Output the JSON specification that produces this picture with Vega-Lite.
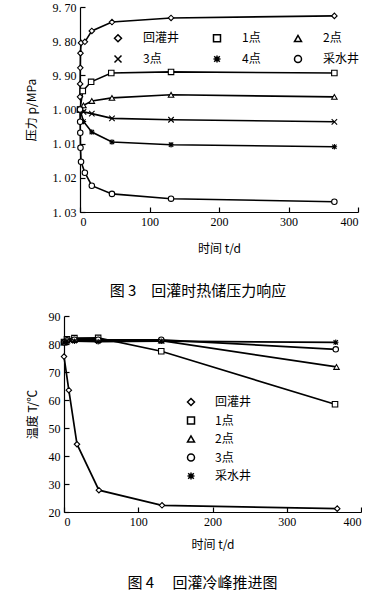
{
  "$schema": "https://vega.github.io/schema/vega-lite/v6.json",
  "padding": {"left": 25, "top": 1, "right": 0, "bottom": 0},
  "background": "white",
  "columns": 1,
  "spacing": 11,
  "resolve": {"scale": {"shape": "independent"}, "legend": {"shape": "independent"}},
  "datasets": {
    "p3": [
      {"s": "回灌井", "t": 0, "v": 0.9963}, {"s": "回灌井", "t": 0.2, "v": 0.9925}, {"s": "回灌井", "t": 0.4, "v": 0.9878}, {"s": "回灌井", "t": 0.7, "v": 0.9835}, {"s": "回灌井", "t": 1.5, "v": 0.9805}, {"s": "回灌井", "t": 7, "v": 0.9802}, {"s": "回灌井", "t": 17, "v": 0.977}, {"s": "回灌井", "t": 46, "v": 0.9744}, {"s": "回灌井", "t": 131, "v": 0.9732}, {"s": "回灌井", "t": 366, "v": 0.9726},
      {"s": "1点", "t": 0, "v": 1.0}, {"s": "1点", "t": 4, "v": 0.9946}, {"s": "1点", "t": 16, "v": 0.9919}, {"s": "1点", "t": 45, "v": 0.9893}, {"s": "1点", "t": 131, "v": 0.989}, {"s": "1点", "t": 366, "v": 0.9893},
      {"s": "2点", "t": 0, "v": 1.0}, {"s": "2点", "t": 5, "v": 0.9988}, {"s": "2点", "t": 17, "v": 0.9975}, {"s": "2点", "t": 46, "v": 0.9966}, {"s": "2点", "t": 131, "v": 0.9957}, {"s": "2点", "t": 366, "v": 0.9963},
      {"s": "3点", "t": 0, "v": 1.0}, {"s": "3点", "t": 5, "v": 1.0007}, {"s": "3点", "t": 17, "v": 1.0012}, {"s": "3点", "t": 46, "v": 1.0026}, {"s": "3点", "t": 131, "v": 1.003}, {"s": "3点", "t": 366, "v": 1.0036},
      {"s": "4点", "t": 0, "v": 1.0}, {"s": "4点", "t": 5, "v": 1.0035}, {"s": "4点", "t": 17, "v": 1.0066}, {"s": "4点", "t": 46, "v": 1.0095}, {"s": "4点", "t": 131, "v": 1.0103}, {"s": "4点", "t": 366, "v": 1.0109},
      {"s": "采水井", "t": 0, "v": 1.0}, {"s": "采水井", "t": 0.2, "v": 1.0036}, {"s": "采水井", "t": 0.4, "v": 1.0068}, {"s": "采水井", "t": 0.7, "v": 1.0112}, {"s": "采水井", "t": 1.5, "v": 1.0153}, {"s": "采水井", "t": 7, "v": 1.0185}, {"s": "采水井", "t": 17, "v": 1.0223}, {"s": "采水井", "t": 46, "v": 1.0247}, {"s": "采水井", "t": 131, "v": 1.0261}, {"s": "采水井", "t": 366, "v": 1.027}
    ],
    "t4": [
      {"s": "回灌井", "t": 0, "v": 75.5}, {"s": "回灌井", "t": 6.5, "v": 63.5}, {"s": "回灌井", "t": 17.5, "v": 44.2}, {"s": "回灌井", "t": 47, "v": 27.8}, {"s": "回灌井", "t": 132, "v": 22.4}, {"s": "回灌井", "t": 368, "v": 21.2},
      {"s": "1点", "t": 0, "v": 80.7}, {"s": "1点", "t": 4, "v": 81.7}, {"s": "1点", "t": 14, "v": 82.1}, {"s": "1点", "t": 46, "v": 82.2}, {"s": "1点", "t": 131, "v": 77.4}, {"s": "1点", "t": 365, "v": 58.5},
      {"s": "2点", "t": 0, "v": 80.5}, {"s": "2点", "t": 4, "v": 81.2}, {"s": "2点", "t": 14, "v": 81.4}, {"s": "2点", "t": 46, "v": 81.4}, {"s": "2点", "t": 131, "v": 81.2}, {"s": "2点", "t": 367, "v": 71.8},
      {"s": "3点", "t": 0, "v": 80.6}, {"s": "3点", "t": 4, "v": 81.3}, {"s": "3点", "t": 14, "v": 81.5}, {"s": "3点", "t": 46, "v": 81.5}, {"s": "3点", "t": 131, "v": 81.5}, {"s": "3点", "t": 366, "v": 78.1},
      {"s": "采水井", "t": 0, "v": 80.6}, {"s": "采水井", "t": 4, "v": 81.0}, {"s": "采水井", "t": 14, "v": 81.0}, {"s": "采水井", "t": 46, "v": 80.8}, {"s": "采水井", "t": 131, "v": 81.0}, {"s": "采水井", "t": 366, "v": 80.6}
    ]
  },
  "concat": [
    {
      "width": 294,
      "height": 205,
      "data": {"name": "p3"},
      "title": {"text": "图 3　回灌时热储压力响应", "orient": "bottom", "offset": 30, "font": "Noto Sans CJK SC", "fontSize": 15, "fontWeight": "normal", "color": "black", "anchor": "middle", "frame": "group", "dx": -13},
      "encoding": {
        "x": {"field": "t", "type": "quantitative", "scale": {"domain": [0, 400], "range": [16, 294], "nice": false, "zero": false}, "axis": {"values": [0, 100, 200, 300, 400], "title": "时间 t/d", "titlePadding": 16}},
        "y": {"field": "v", "type": "quantitative", "scale": {"domain": [0.97, 1.03], "nice": false, "zero": false, "reverse": true}, "axis": {"offset": -16, "values": [0.97, 0.98, 0.99, 1.0, 1.01, 1.02, 1.03], "labelExpr": "round(datum.value*100)==97 ? '9. 70' : round(datum.value*100)==98 ? '9. 80' : round(datum.value*100)==99 ? '9. 90' : round(datum.value*100)==100 ? '1. 00' : round(datum.value*100)==101 ? '1. 01' : round(datum.value*100)==102 ? '1. 02' : '1. 03'", "title": "压力 p/MPa", "titlePadding": 14}}
      },
      "layer": [
        {"mark": {"type": "line", "color": "black", "strokeWidth": 1.6}, "encoding": {"detail": {"field": "s"}}},
        {"mark": {"type": "point", "filled": true, "fill": "white", "stroke": "black", "strokeWidth": 1.1, "size": 30, "opacity": 1},
         "encoding": {"shape": {"field": "s", "scale": {"domain": ["回灌井", "1点", "2点", "3点", "4点", "采水井"], "range": ["diamond", "square", "triangle-up", "M-1,-1L1,1M-1,1L1,-1", "M-1,0H1M0,-1V1M-0.8,-0.8L0.8,0.8M-0.8,0.8L0.8,-0.8", "circle"]},
           "legend": {"title": null, "orient": "none", "direction": "horizontal", "legendX": 48, "legendY": 25, "columns": 3, "columnPadding": 30, "rowPadding": 7, "symbolSize": 49, "labelFont": "Noto Sans CJK SC", "labelFontSize": 12, "labelColor": "black", "labelOffset": 19}}}}
      ]
    },
    {
      "width": 297,
      "height": 196,
      "data": {"name": "t4"},
      "title": {"text": "图 4　 回灌冷峰推进图", "orient": "bottom", "offset": 26, "font": "Noto Sans CJK SC", "fontSize": 15, "fontWeight": "normal", "color": "black", "anchor": "middle", "frame": "group", "dx": -10},
      "encoding": {
        "x": {"field": "t", "type": "quantitative", "scale": {"domain": [0, 400], "nice": false, "zero": false}, "axis": {"values": [0, 100, 200, 300, 400], "title": "时间 t/d", "titlePadding": 12}},
        "y": {"field": "v", "type": "quantitative", "scale": {"domain": [20, 90], "nice": false, "zero": false}, "axis": {"values": [20, 30, 40, 50, 60, 70, 80, 90], "title": "温度 T/℃", "titlePadding": 9}}
      },
      "layer": [
        {"mark": {"type": "line", "color": "black", "strokeWidth": 1.7}, "encoding": {"detail": {"field": "s"}}},
        {"mark": {"type": "point", "filled": true, "fill": "white", "stroke": "black", "strokeWidth": 1.1, "size": 30, "opacity": 1},
         "encoding": {"shape": {"field": "s", "scale": {"domain": ["回灌井", "1点", "2点", "3点", "采水井"], "range": ["diamond", "square", "triangle-up", "circle", "M-1,0H1M0,-1V1M-0.8,-0.8L0.8,0.8M-0.8,0.8L0.8,-0.8"]},
           "legend": {"title": null, "orient": "none", "legendX": 121, "legendY": 80, "columns": 1, "rowPadding": 4.5, "symbolSize": 49, "labelFont": "Noto Sans CJK SC", "labelFontSize": 12, "labelColor": "black", "labelOffset": 18}}}}
      ]
    }
  ],
  "config": {
    "view": {"stroke": null},
    "axis": {"grid": false, "domainColor": "black", "domainWidth": 1.2, "tickColor": "black", "tickWidth": 1.2, "tickSize": -5, "labelFont": "Liberation Serif", "labelFontSize": 12, "labelColor": "black", "labelPadding": 9, "titleFont": "Noto Sans CJK SC", "titleFontSize": 12, "titleFontWeight": "normal", "titleColor": "black"}
  }
}
